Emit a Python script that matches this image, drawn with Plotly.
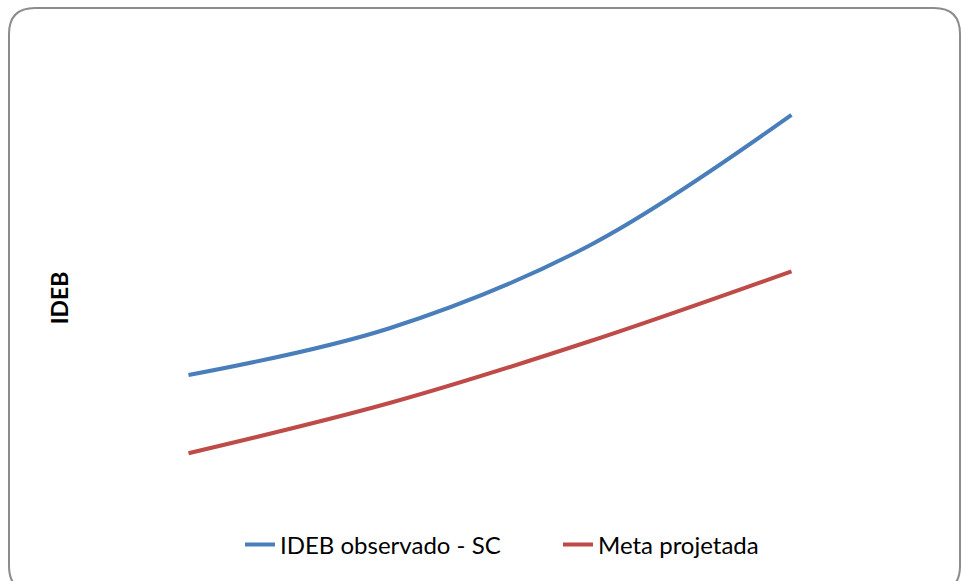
import plotly.graph_objects as go

categories = ["2005", "2007", "2009", "2011"]
ideb_observado = [4.00, 4.55, 5.53, 7.06]
meta_projetada = [3.08, 3.67, 4.40, 5.22]

W, H = 962, 581
ML, MR, MT, MB = 88, 70, 60, 45
PW = W - ML - MR
PH = H - MT - MB

def X(px):
    return (px - ML) / PW

def Y(py):
    return (H - MB - py) / PH

fig = go.Figure()
fig.add_trace(go.Scatter(
    x=categories, y=ideb_observado, name="IDEB observado - SC",
    mode="lines", line=dict(color="#4a7ebb", width=4, shape="spline", smoothing=1.0),
))
fig.add_trace(go.Scatter(
    x=categories, y=meta_projetada, name="Meta projetada",
    mode="lines", line=dict(color="#be4b48", width=4, shape="spline", smoothing=1.0),
))

# rounded chart-area border
x0, y0, x1, y1, r = 9, 8, 960, 592, 26
path = (
    f"M {X(x0+r)},{Y(y0)} L {X(x1-r)},{Y(y0)} "
    f"Q {X(x1)},{Y(y0)} {X(x1)},{Y(y0+r)} "
    f"L {X(x1)},{Y(y1-r)} Q {X(x1)},{Y(y1)} {X(x1-r)},{Y(y1)} "
    f"L {X(x0+r)},{Y(y1)} Q {X(x0)},{Y(y1)} {X(x0)},{Y(y1-r)} "
    f"L {X(x0)},{Y(y0+r)} Q {X(x0)},{Y(y0)} {X(x0+r)},{Y(y0)} Z"
)
fig.add_shape(type="path", path=path, xref="paper", yref="paper",
              line=dict(color="#8c8c8c", width=2), layer="below")

fig.update_layout(
    width=W, height=H,
    margin=dict(l=ML, r=MR, t=MT, b=MB),
    paper_bgcolor="white", plot_bgcolor="white",
    font=dict(family="Lato, Open Sans, sans-serif", size=16, color="black"),
    showlegend=True,
    legend=dict(orientation="h", x=X(240), xanchor="left", y=Y(545), yanchor="middle",
                font=dict(size=24), itemwidth=30, entrywidth=273,
                bgcolor="rgba(0,0,0,0)"),
    xaxis=dict(type="category", range=[-0.5, 3.5], showticklabels=False, showgrid=False,
               zeroline=False, showline=False, ticks=""),
    yaxis=dict(range=[(715 - (H - MB)) / 85, (715 - MT) / 85], showticklabels=False,
               showgrid=False, zeroline=False, showline=False, ticks="",
               title=dict(text="<b>IDEB</b>", font=dict(size=23), standoff=11)),
)

fig.write_html("out.html", config={"displayModeBar": False},
               post_script="document.body.style.margin='0';")
